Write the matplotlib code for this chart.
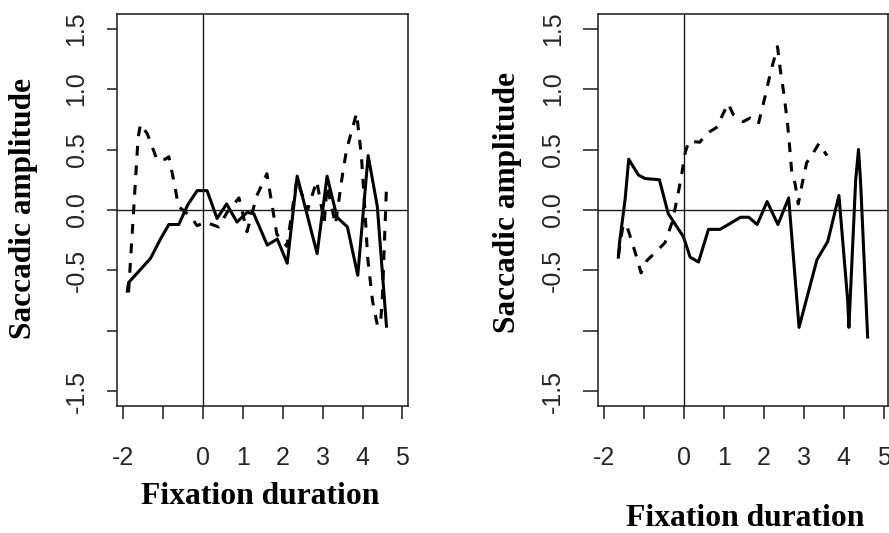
import matplotlib
matplotlib.use("Agg")
import matplotlib.pyplot as plt

# ---- data ----
left_solid_x = [-1.90, -1.87, -1.32, -1.07, -0.86, -0.61, -0.39, -0.15, 0.10, 0.35, 0.59, 0.85,
                1.10, 1.27, 1.61, 1.86, 2.11, 2.36, 2.86, 3.11, 3.36, 3.62, 3.88, 4.14, 4.37, 4.60]
left_solid_y = [-0.67, -0.60, -0.40, -0.24, -0.12, -0.12, 0.04, 0.16, 0.16, -0.07, 0.05, -0.10,
                -0.02, -0.03, -0.29, -0.24, -0.44, 0.28, -0.36, 0.28, -0.06, -0.14, -0.54, 0.45, 0.03, -0.96]

left_dash_x = [-1.87, -1.63, -1.57, -1.40, -1.15, -0.95, -0.86, -0.71, -0.62, -0.32, -0.15, 0.05,
               0.39, 0.60, 0.90, 1.10, 1.35, 1.60, 1.85, 2.10, 2.35, 2.62, 2.85, 3.04, 3.11, 3.32,
               3.50, 3.60, 3.85, 3.97, 4.05, 4.13, 4.25, 4.37, 4.45, 4.50, 4.60]
left_dash_y = [-0.68, 0.60, 0.71, 0.63, 0.41, 0.42, 0.44, 0.20, 0.03, -0.05, -0.13, -0.10,
               -0.14, -0.02, 0.10, -0.18, 0.12, 0.30, -0.20, -0.30, 0.25, 0.00, 0.24, -0.10, 0.20, -0.12,
               0.30, 0.50, 0.80, 0.45, 0.05, -0.40, -0.75, -0.95, -0.95, -0.70, 0.19]

right_solid_x = [-1.65, -1.62, -1.48, -1.39, -1.15, -0.98, -0.62, -0.40, -0.18, -0.02, 0.15, 0.36,
                 0.61, 0.90, 1.16, 1.41, 1.62, 1.83, 2.08, 2.35, 2.62, 2.88, 3.33, 3.60, 3.88,
                 4.10, 4.13, 4.30, 4.37, 4.42, 4.60]
right_solid_y = [-0.39, -0.27, 0.09, 0.42, 0.29, 0.26, 0.25, -0.03, -0.14, -0.22, -0.39, -0.43,
                 -0.16, -0.16, -0.11, -0.06, -0.06, -0.12, 0.07, -0.12, 0.10, -0.97, -0.41, -0.26, 0.12,
                 -0.75, -0.97, 0.25, 0.50, 0.25, -1.05]

right_dash_x = [-1.65, -1.53, -1.45, -1.37, -1.20, -1.08, -0.94, -0.69, -0.48, -0.30, -0.16, -0.06,
                0.03, 0.12, 0.39, 0.56, 0.85, 0.94, 1.10, 1.23, 1.48, 1.65, 1.86, 2.03, 2.16, 2.34,
                2.41, 2.50, 2.59, 2.65, 2.70, 2.78, 2.86, 2.96, 3.07, 3.25, 3.38, 3.58]
right_dash_y = [-0.38, -0.12, -0.12, -0.20, -0.38, -0.52, -0.42, -0.34, -0.27, -0.10, 0.12, 0.30,
                0.48, 0.57, 0.56, 0.63, 0.69, 0.77, 0.88, 0.79, 0.73, 0.76, 0.71, 0.94, 1.13, 1.35,
                1.16, 0.96, 0.72, 0.50, 0.30, 0.22, 0.05, 0.22, 0.39, 0.48, 0.55, 0.45]

x_ticks = [-2, -1, 0, 1, 2, 3, 4, 5]
x_tick_labels = ["-2", "", "0", "1", "2", "3", "4", "5"]
y_ticks = [1.5, 1.0, 0.5, 0.0, -0.5, -1.0, -1.5]
y_tick_labels = ["1.5", "1.0", "0.5", "0.0", "-0.5", "", "-1.5"]
x_label = "Fixation duration"
y_label = "Saccadic amplitude"

W, H = 889, 533
fig = plt.figure(figsize=(W / 100, H / 100), dpi=100)

tick_font = "Liberation Sans"
label_font = "Liberation Serif"
tick_color = "#262626"


def make_axes(rect, xlim, ytick_len, sx, sy, dx, dy):
    ax = fig.add_axes(rect)
    ax.plot(sx, sy, color="black", lw=2.2, solid_joinstyle="round")
    ax.plot(dx, dy, color="black", lw=2.2, linestyle=(0, (3.2, 3.2)))
    ax.axvline(0, color="#1a1a1a", lw=1.0)
    ax.axhline(0, color="#1a1a1a", lw=1.0)
    ax.set_xlim(*xlim)
    ax.set_ylim(-1.62, 1.62)
    ax.set_xticks(x_ticks)
    ax.set_xticklabels(x_tick_labels, fontfamily=tick_font, fontsize=18)
    ax.set_yticks(y_ticks)
    ax.set_yticklabels(y_tick_labels, fontfamily=tick_font, fontsize=18,
                       rotation=90, va="center")
    ax.tick_params(axis="x", direction="out", length=9.5, width=1.1, pad=19,
                   color="#1a1a1a", labelcolor=tick_color)
    ax.tick_params(axis="y", direction="out", length=ytick_len, width=1.1, pad=13,
                   color="#1a1a1a", labelcolor=tick_color)
    for s in ax.spines.values():
        s.set_linewidth(1.1)
        s.set_color("#1a1a1a")
    return ax


ax1 = make_axes([117 / W, 1 - 406 / H, (408 - 117) / W, (406 - 14) / H],
                (-2.16, 5.14), 7.5, left_solid_x, left_solid_y, left_dash_x, left_dash_y)
ax2 = make_axes([598 / W, 1 - 406 / H, (888 - 598) / W, (406 - 14) / H],
                (-2.16, 5.11), 10.5, right_solid_x, right_solid_y, right_dash_x, right_dash_y)

fig.text(24 / W, 1 - 208 / H, y_label, rotation=90, ha="center", va="center",
         fontfamily=label_font, fontweight="bold", fontsize=22.6)
fig.text(508 / W, 1 - 202 / H, y_label, rotation=90, ha="center", va="center",
         fontfamily=label_font, fontweight="bold", fontsize=22.6)
fig.text(260 / W, 1 - 497 / H, x_label, ha="center", va="center",
         fontfamily=label_font, fontweight="bold", fontsize=22.8)
fig.text(745 / W, 1 - 519 / H, x_label, ha="center", va="center",
         fontfamily=label_font, fontweight="bold", fontsize=22.8)

fig.savefig("out.png", dpi=100)
